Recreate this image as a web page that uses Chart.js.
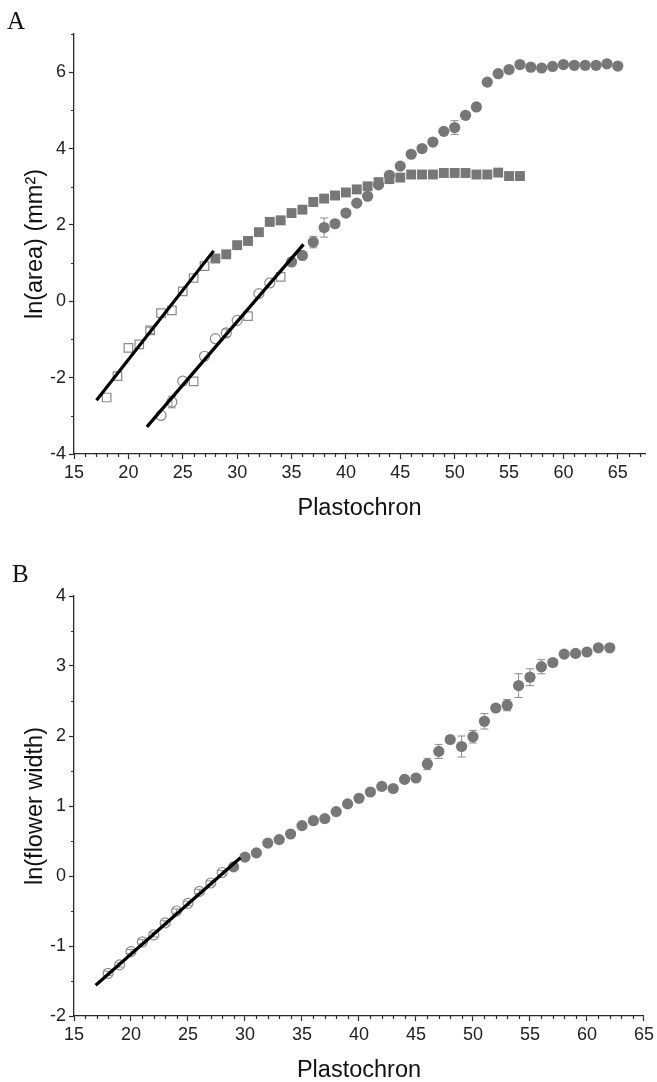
<!DOCTYPE html>
<html><head><meta charset="utf-8">
<script src="https://cdn.jsdelivr.net/npm/chart.js@4.4.1/dist/chart.umd.min.js"></script>
<style>
html,body{margin:0;padding:0;background:#fff;width:657px;height:1082px;overflow:hidden}
canvas{position:absolute;left:0}
.lab{position:absolute;z-index:5;font-family:"Liberation Serif","Times New Roman",serif;font-size:25px;color:#111;line-height:1}
</style></head><body>
<canvas id="cA" width="657" height="540" style="top:0"></canvas>
<canvas id="cB" width="657" height="542" style="top:540px"></canvas>
<div class="lab" style="left:7px;top:8px">A</div>
<div class="lab" style="left:12px;top:561px">B</div>
<script>
// ---------- Panel A data ----------
const aOpenSqX = [18,19,20,21,22,23,24,25,26,27];
const aOpenSqY = [-2.52,-1.96,-1.22,-1.13,-0.76,-0.31,-0.24,0.26,0.61,0.92];
const aOpenSqErr = [0,0,0,0,0.08,0,0,0,0,0];

const aOpenCircX = [23,24,25,26,27,28,29,30,31,32,33,34];
const aOpenCircY = [-2.99,-2.64,-2.09,-2.10,-1.44,-0.98,-0.83,-0.50,-0.39,0.20,0.48,0.64];
const aOpenCircShape = ['circle','circle','circle','rect','circle','circle','circle','circle','rect','circle','circle','rect'];
const aOpenCircErr = [0,0.15,0,0,0,0,0.1,0,0,0,0,0];

const aSqX = [28,29,30,31,32,33,34,35,36,37,38,39,40,41,42,43,44,45,46,47,48,49,50,51,52,53,54,55,56];
const aSqY = [1.12,1.23,1.47,1.58,1.81,2.08,2.12,2.31,2.40,2.60,2.69,2.77,2.85,2.93,3.01,3.12,3.20,3.24,3.32,3.32,3.32,3.36,3.36,3.36,3.32,3.32,3.37,3.28,3.28];

const aCircX = [35,36,37,38,39,40,41,42,43,44,45,46,47,48,49,50,51,52,53,54,55,56,57,58,59,60,61,62,63,64,65];
const aCircY = [1.03,1.20,1.55,1.93,2.03,2.31,2.57,2.75,3.05,3.30,3.54,3.85,4.00,4.17,4.45,4.55,4.87,5.09,5.74,5.96,6.07,6.20,6.13,6.11,6.15,6.20,6.18,6.18,6.18,6.22,6.16];
const aCircErr = [0,0,0.15,0.25,0,0,0,0,0,0,0,0,0,0,0,0.18,0,0,0,0,0,0,0,0,0,0,0,0,0,0,0];

const aFit1X = [17.07, 27.84];
const aFit1Y = [-2.59, 1.32];
const aFit2X = [21.7, 36.1];
const aFit2Y = [-3.29, 1.49];

const aXTicks = {min:15, max:67.5, step:5};
const aYTicks = {min:-4, max:7, step:2};

// ---------- Panel B data ----------
const bOpenX = [18,19,20,21,22,23,24,25,26,27,28];
const bOpenY = [-1.39,-1.27,-1.08,-0.94,-0.84,-0.67,-0.50,-0.39,-0.22,-0.10,0.05];
const bOpenErr = [0.03,0.03,0.03,0.03,0.03,0.03,0.03,0.03,0.03,0.03,0.03];

const bCircX = [29,30,31,32,33,34,35,36,37,38,39,40,41,42,43,44,45,46,47,48,49,50,51,52,53,54,55,56,57,58,59,60,61,62];
const bCircY = [0.13,0.27,0.33,0.47,0.52,0.60,0.72,0.79,0.82,0.92,1.03,1.11,1.20,1.28,1.25,1.38,1.40,1.60,1.78,1.95,1.85,1.99,2.21,2.40,2.44,2.72,2.84,2.99,3.05,3.17,3.18,3.20,3.26,3.26];
const bCircErr = [0,0,0,0,0,0,0,0,0,0,0,0,0,0,0,0,0,0.08,0.1,0,0.15,0.09,0.11,0,0.08,0.17,0.12,0.1,0,0,0,0,0,0];

const bFitX = [16.9, 29.6];
const bFitY = [-1.56, 0.26];

const bXTicks = {min:15, max:65, step:5};
const bYTicks = {min:-2, max:4, step:1};

// ---------- helpers ----------
const pts = (xs, ys) => xs.map((x, i) => ({x, y: ys[i]}));
const FONT = '"Liberation Sans", Arial, Helvetica, sans-serif';
const GRAY = '#777777';
const OPEN = '#8a8a8a';
const AXIS = '#2a2a2a';

const decor = {
  id: 'decor',
  beforeDatasetsDraw(chart) {
    const ctx = chart.ctx, xs = chart.scales.x, ys = chart.scales.y;
    chart.data.datasets.forEach((ds, i) => {
      if (!ds.errors) return;
      ctx.save();
      ctx.strokeStyle = '#8c8c8c';
      ctx.lineWidth = 1;
      ds.data.forEach((p, j) => {
        const e = ds.errors[j];
        if (!e) return;
        const x = xs.getPixelForValue(p.x);
        const y1 = ys.getPixelForValue(p.y + e), y2 = ys.getPixelForValue(p.y - e);
        ctx.beginPath();
        ctx.moveTo(x, y1); ctx.lineTo(x, y2);
        ctx.moveTo(x - 4, y1); ctx.lineTo(x + 4, y1);
        ctx.moveTo(x - 4, y2); ctx.lineTo(x + 4, y2);
        ctx.stroke();
      });
      ctx.restore();
    });
  },
  afterDraw(chart, args, opts) {
    const ctx = chart.ctx, xs = chart.scales.x, ys = chart.scales.y;
    const area = chart.chartArea;
    ctx.save();
    ctx.strokeStyle = AXIS;
    ctx.lineWidth = 1.2;
    ctx.beginPath();
    for (let v = Math.ceil(xs.min); v <= xs.max + 1e-9; v += opts.xMinor) {
      if (Math.abs(v / opts.xMajor - Math.round(v / opts.xMajor)) < 1e-6) continue;
      const px = Math.round(xs.getPixelForValue(v)) + 0.5;
      ctx.moveTo(px, area.bottom); ctx.lineTo(px, area.bottom + 3);
    }
    const n = Math.round((ys.max - ys.min) / opts.yMinor);
    for (let k = 0; k <= n; k++) {
      const v = ys.min + k * opts.yMinor;
      if (Math.abs(v / opts.yMajor - Math.round(v / opts.yMajor)) < 1e-6) continue;
      const py = Math.round(ys.getPixelForValue(v)) + 0.5;
      ctx.moveTo(area.left, py); ctx.lineTo(area.left - 3, py);
    }
    ctx.stroke();
    ctx.restore();
  }
};

const TITLE_FONT = {family: FONT, size: 23.5, lineHeight: 1};

function axisX(t, titlePadBottom, height) {
  return {
    type: 'linear', min: t.min, max: t.max,
    afterFit: s => { s.height = height; },
    ticks: { stepSize: t.step, includeBounds: false, autoSkip: false, maxRotation: 0, padding: 3,
             color: '#222', font: {family: FONT, size: 18} },
    grid: { drawOnChartArea: false, drawTicks: true, tickLength: 5, tickWidth: 1.2, tickColor: AXIS },
    border: { display: true, color: AXIS, width: 1.3 },
    title: { display: true, text: 'Plastochron', color: '#111', font: TITLE_FONT,
             padding: {top: 0, bottom: titlePadBottom} }
  };
}
function axisY(t, label, titlePadTop) {
  return {
    type: 'linear', min: t.min, max: t.max,
    afterFit: s => { s.width = 74; },
    ticks: { stepSize: t.step, includeBounds: false, autoSkip: false, padding: 3,
             color: '#222', font: {family: FONT, size: 18} },
    grid: { drawOnChartArea: false, drawTicks: true, tickLength: 5, tickWidth: 1.2, tickColor: AXIS },
    border: { display: true, color: AXIS, width: 1.3 },
    title: { display: true, text: label, color: '#111', font: TITLE_FONT,
             padding: {top: titlePadTop, bottom: 0} }
  };
}
function fitLine(xs, ys) {
  return { type: 'line', data: pts(xs, ys), showLine: true, borderColor: '#000', borderWidth: 3.2,
           pointRadius: 0, fill: false, borderCapStyle: 'butt' };
}

Chart.defaults.animation = false;

new Chart(document.getElementById('cA'), {
  type: 'scatter',
  data: { datasets: [
    fitLine(aFit1X, aFit1Y),
    fitLine(aFit2X, aFit2Y),
    { data: pts(aSqX, aSqY), pointStyle: 'rect', pointRadius: 7, backgroundColor: GRAY, borderColor: GRAY, borderWidth: 0 },
    { data: pts(aCircX, aCircY), errors: aCircErr, pointStyle: 'circle', pointRadius: 5.6, backgroundColor: GRAY, borderColor: GRAY, borderWidth: 0 },
    { data: pts(aOpenSqX, aOpenSqY), errors: aOpenSqErr, pointStyle: 'rect', pointRadius: 6, backgroundColor: 'rgba(255,255,255,0)', borderColor: OPEN, borderWidth: 1.2 },
    { data: pts(aOpenCircX, aOpenCircY), errors: aOpenCircErr, pointStyle: aOpenCircShape, pointRadius: ctx => aOpenCircShape[ctx.dataIndex] === 'rect' ? 6 : 5, backgroundColor: 'rgba(255,255,255,0)', borderColor: OPEN, borderWidth: 1.2 }
  ]},
  options: {
    responsive: false, animation: false,
    layout: { padding: {top: 34, right: 12, left: 0, bottom: 0} },
    plugins: { legend: {display: false}, tooltip: {enabled: false},
               decor: {xMinor: 1, xMajor: 5, yMinor: 1, yMajor: 2} },
    scales: { x: axisX(aXTicks, 20, 86), y: axisY(aYTicks, 'ln(area) (mm²)', 24) }
  },
  plugins: [decor]
});

new Chart(document.getElementById('cB'), {
  type: 'scatter',
  data: { datasets: [
    fitLine(bFitX, bFitY),
    { data: pts(bCircX, bCircY), errors: bCircErr, pointStyle: 'circle', pointRadius: 5.6, backgroundColor: GRAY, borderColor: GRAY, borderWidth: 0 },
    { data: pts(bOpenX, bOpenY), errors: bOpenErr, pointStyle: 'circle', pointRadius: 5, backgroundColor: 'rgba(255,255,255,0)', borderColor: OPEN, borderWidth: 1.2 }
  ]},
  options: {
    responsive: false, animation: false,
    layout: { padding: {top: 56, right: 12, left: 0, bottom: 0} },
    plugins: { legend: {display: false}, tooltip: {enabled: false},
               decor: {xMinor: 1, xMajor: 5, yMinor: 0.5, yMajor: 1} },
    scales: { x: axisX(bXTicks, 0, 66), y: axisY(bYTicks, 'ln(flower width)', 24) }
  },
  plugins: [decor]
});
</script>
</body></html>
